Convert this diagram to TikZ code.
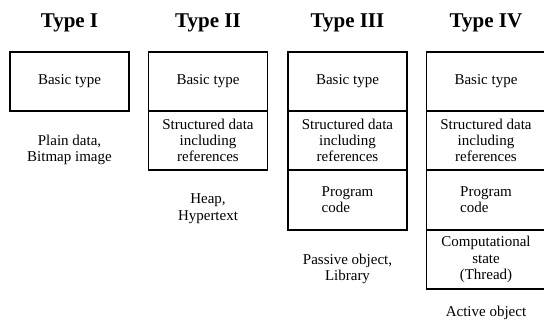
\documentclass[tikz,border=0pt]{standalone}
\usepackage{fontspec}
\setmainfont{Liberation Serif}
\begin{document}
\begin{tikzpicture}[x=1pt,y=-1pt,
  title/.style={anchor=base, inner sep=0pt, font=\fontsize{21}{25}\selectfont\bfseries},
  cell/.style={draw=black, line width=1.2pt, minimum width=119pt, minimum height=59pt,
    inner sep=0pt, align=center, font=\fontsize{15}{16.3}\selectfont},
  codecell/.style={cell, align=left},
  caption/.style={inner sep=0pt, align=center, font=\fontsize{15}{16.3}\selectfont}]
\useasboundingbox (0,0) rectangle (544,326);

% column headings
\node[title] (t1) at (69.5,28) {Type I};
\node[title] (t2) at (208,28) {Type II};
\node[title] (t3) at (347.5,28) {Type III};
\node[title] (t4) at (486,28) {Type IV};

% Type I
\node[cell] (a1) at (69.5,81.5) {Basic type};
\node[caption] (cap1) at (69.5,149.6) {Plain data,\\Bitmap image};

% Type II
\node[cell] (b1) at (208,81.5) {Basic type};
\node[cell] (b2) at (208,140.5) {Structured data\\including\\references};
\node[caption] (cap2) at (208,208.6) {Heap,\\Hypertext};

% Type III
\node[cell] (c1) at (347.5,81.5) {Basic type};
\node[cell] (c2) at (347.5,140.5) {Structured data\\including\\references};
\node[codecell, minimum height=60pt] (c3) at (347.5,200) {Program\\code};
\node[caption] (cap3) at (347.5,268.6) {Passive object,\\Library};

% Type IV
\node[cell] (d1) at (486,81.5) {Basic type};
\node[cell] (d2) at (486,140.5) {Structured data\\including\\references};
\node[codecell, minimum height=60pt] (d3) at (486,200) {Program\\code};
\node[cell] (d4) at (486,259.5) {Computational\\state\\(Thread)};
\node[caption, anchor=base] (cap4) at (486,316) {Active object};
\end{tikzpicture}
\end{document}
